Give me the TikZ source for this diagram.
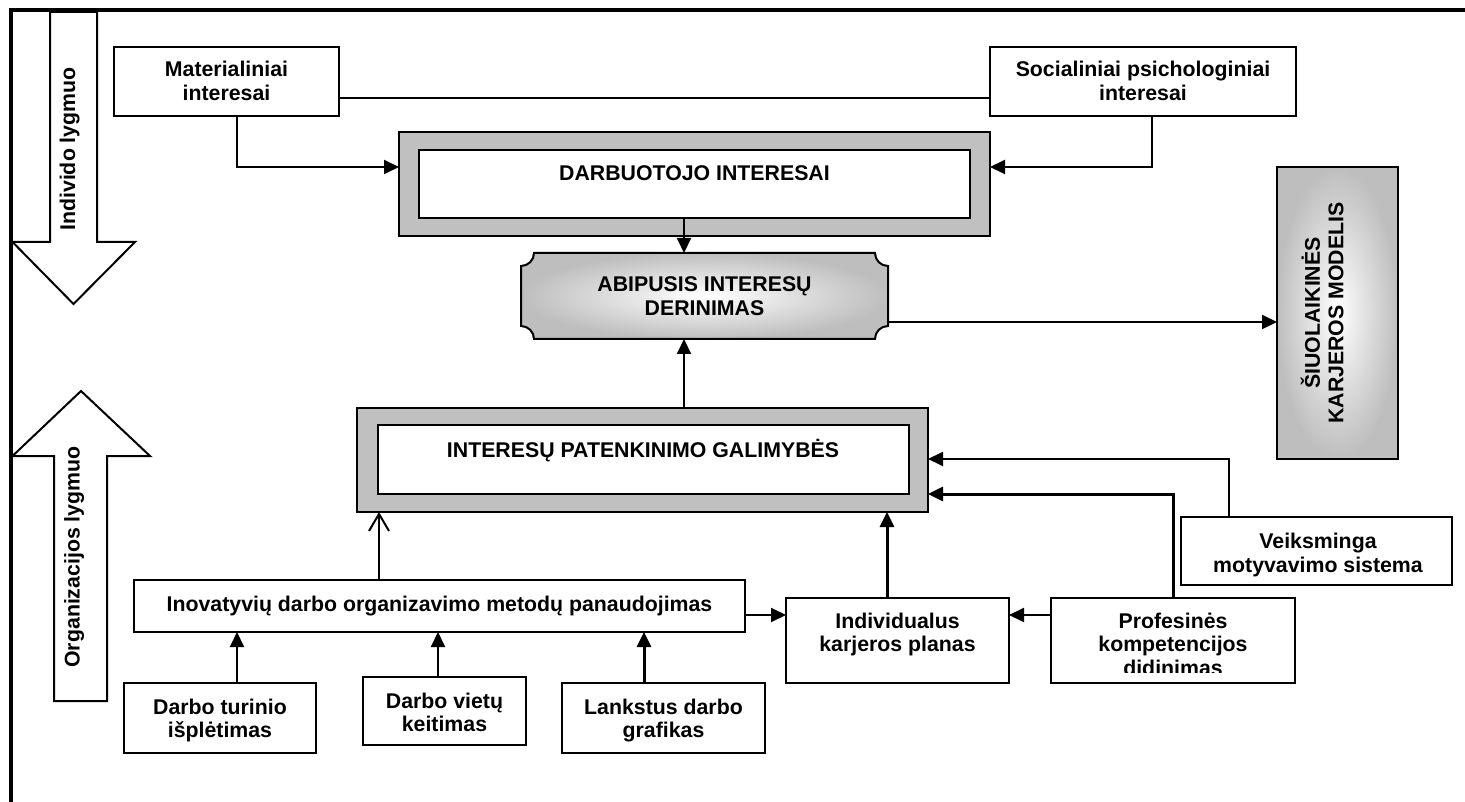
\documentclass[tikz,border=0pt]{standalone}
\usepackage{fontspec}
\setmainfont{Liberation Sans}
\usetikzlibrary{arrows.meta}
\definecolor{silverg}{HTML}{C0C0C0}
\definecolor{shadeg}{HTML}{BEBEBE}
\newcommand\capstrut{\rule{0pt}{20pt}}
\newcommand\descstrut{\rule[-5pt]{0pt}{5pt}}
\begin{document}
\begin{tikzpicture}[x=1pt,y=-1pt,
  box/.style={draw=black,line width=2pt,fill=white,rectangle,inner sep=0pt,outer sep=0pt},
  grayframe/.style={draw=black,line width=2.5pt,fill=silverg,rectangle,inner sep=0pt,outer sep=0pt},
  innerbox/.style={draw=black,line width=2.5pt,fill=white,rectangle,inner sep=0pt,outer sep=0pt},
  txt/.style={font=\fontsize{21.3}{23.5}\selectfont\bfseries,align=center,inner sep=0pt,outer sep=0pt,anchor=north},
  vtxt/.style={font=\fontsize{21.3}{23.5}\selectfont\bfseries,align=center,inner sep=0pt,outer sep=0pt,anchor=center,rotate=90},
  wire/.style={line width=2pt},
  conn/.style={line width=2pt,-{Triangle[length=15pt,width=14pt]}},
  thickconn/.style={line width=3pt,-{Triangle[length=15pt,width=14pt]}},
  openconn/.style={line width=2pt,-{Straight Barb[length=17pt,width=20pt]}},
  blockarrow/.style={draw=black,line width=2pt,fill=white,line join=miter},
]
\useasboundingbox (0,0) rectangle (1465,802);
\fill[white] (0,0) rectangle (1465,802);

% outer frame (top and left edges)
\draw[line width=3.5pt,line join=miter] (11,802) -- (11,10) -- (1465,10);

% level arrows
\draw[blockarrow] (50,12) -- (97,12) -- (97,242) -- (135,242) -- (73.5,304) -- (12.5,242) -- (50,242) -- cycle;
\node[vtxt] (lvl-ind) at (67.5,149) {\capstrut Individo lygmuo\descstrut};
\draw[blockarrow] (81,391) -- (150,456) -- (107,456) -- (107,701) -- (54,701) -- (54,456) -- (12.5,456) -- cycle;
\node[vtxt] (lvl-org) at (72,557) {\capstrut Organizacijos lygmuo\descstrut};

% top row
\node[box,minimum width=225pt,minimum height=69pt] (mat) at (226.5,81.5) {};
\node[txt] (mat-t) at (226.5,57) {\capstrut Materialiniai\\interesai};
\node[box,minimum width=306pt,minimum height=69pt] (soc) at (1143,81.5) {};
\node[txt] (soc-t) at (1143,57) {\capstrut Socialiniai psichologiniai\\interesai};

% employee interests
\node[grayframe,minimum width=591pt,minimum height=104pt] (darbO) at (694.5,184) {};
\node[innerbox,minimum width=551pt,minimum height=68pt] (darbI) at (694.5,184) {};
\node[txt] (darb-t) at (694.5,161) {\capstrut DARBUOTOJO INTERESAI};

% mutual matching (plaque with concave corners)
\node[rectangle,inner sep=0pt,outer sep=0pt,minimum width=367pt,minimum height=86pt] (abi) at (704.5,296) {};
\shadedraw[draw=black,line width=2pt,inner color=white,outer color=shadeg]
  (534,253) -- (875,253) .. controls (875,260.2) and (880.8,266) .. (888,266)
  -- (888,326) .. controls (880.8,326) and (875,331.8) .. (875,339)
  -- (534,339) .. controls (534,331.8) and (528.2,326) .. (521,326)
  -- (521,266) .. controls (528.2,266) and (534,260.2) .. (534,253) -- cycle;
\node[txt] (abi-t) at (704.5,272) {\capstrut ABIPUSIS INTERESŲ\\DERINIMAS};

% career model
\node[rectangle,inner sep=0pt,outer sep=0pt,minimum width=121pt,minimum height=292pt] (siu) at (1337.5,313) {};
\shadedraw[draw=black,line width=2pt,inner color=white,outer color=shadeg] (1277,167) rectangle (1398,459);
\node[vtxt] (siu-t) at (1324,313) {\capstrut ŠIUOLAIKINĖS\\KARJEROS MODELIS\descstrut};

% satisfaction possibilities
\node[grayframe,minimum width=571pt,minimum height=104pt] (intO) at (642.5,460) {};
\node[innerbox,minimum width=531pt,minimum height=69pt] (intI) at (643.5,459.5) {};
\node[txt] (int-t) at (643,437) {\capstrut INTERESŲ PATENKINIMO GALIMYBĖS};

% lower boxes
\node[box,minimum width=611pt,minimum height=52pt] (ino) at (439.5,606) {};
\node[txt] (ino-t) at (439.5,591) {\capstrut Inovatyvių darbo organizavimo metodų panaudojimas};
\node[box,minimum width=223pt,minimum height=85pt] (ind) at (897.5,640.5) {};
\node[txt] (ind-t) at (897.5,608) {\capstrut Individualus\\karjeros planas};
\node[box,minimum width=244pt,minimum height=85pt] (pro) at (1173,640.5) {};
\begin{scope}
  \clip (1051,598) rectangle (1295,672);
  \node[txt] (pro-t) at (1173,608) {\capstrut Profesinės\\kompetencijos\\didinimas};
\end{scope}
\node[box,minimum width=271pt,minimum height=68pt] (vei) at (1316.5,551) {};
\node[txt] (vei-t) at (1318,528.5) {\capstrut Veiksminga\\motyvavimo sistema};
\node[box,minimum width=192pt,minimum height=70pt] (dtu) at (220,718) {};
\node[txt] (dtu-t) at (220,694) {\capstrut Darbo turinio\\išplėtimas};
\node[box,minimum width=163pt,minimum height=68pt] (dvi) at (444.5,711) {};
\node[txt] (dvi-t) at (444.5,688) {\capstrut Darbo vietų\\keitimas};
\node[box,minimum width=203pt,minimum height=70pt] (lan) at (663.5,718) {};
\node[txt] (lan-t) at (663.5,694) {\capstrut Lankstus darbo\\grafikas};

% connector lanes
\coordinate (laneA) at (237,167);
\coordinate (laneB) at (1152,167);
\coordinate (rowC) at (0,98);
\coordinate (laneC) at (684,0);
\coordinate (rowD) at (0,322);
\coordinate (laneD) at (1229,459);
\coordinate (rowF) at (0,494);
\coordinate (rowG) at (0,615);
\coordinate (laneE) at (887,0);
\coordinate (laneF) at (379,0);
\coordinate (laneG) at (237,0);
\coordinate (laneH) at (438,0);
\coordinate (laneI) at (644,0);

% connectors
\draw[conn] (mat.south -| laneA) |- (darbO.west |- laneA);
\draw[conn] (soc.south -| laneB) |- (darbO.east |- laneB);
\draw[wire] (mat.east |- rowC) -- (soc.west |- rowC);
\draw[conn] (darbI.south -| laneC) -- (abi.north -| laneC);
\draw[conn] (intO.north -| laneC) -- (abi.south -| laneC);
\draw[conn] (abi.east |- rowD) -- (siu.west |- rowD);
\draw[conn] (vei.north -| laneD) |- (intO.east |- laneD);
\draw[thickconn] (pro.north) |- (intO.east |- rowF);
\draw[conn] (pro.west |- rowG) -- (ind.east |- rowG);
\draw[thickconn] (ind.north -| laneE) -- (intO.south -| laneE);
\draw[openconn] (ino.north -| laneF) -- (intO.south -| laneF);
\draw[conn] (ino.east |- rowG) -- (ind.west |- rowG);
\draw[conn] (dtu.north -| laneG) -- (ino.south -| laneG);
\draw[conn] (dvi.north -| laneH) -- (ino.south -| laneH);
\draw[thickconn] (lan.north -| laneI) -- (ino.south -| laneI);
\end{tikzpicture}
\end{document}
